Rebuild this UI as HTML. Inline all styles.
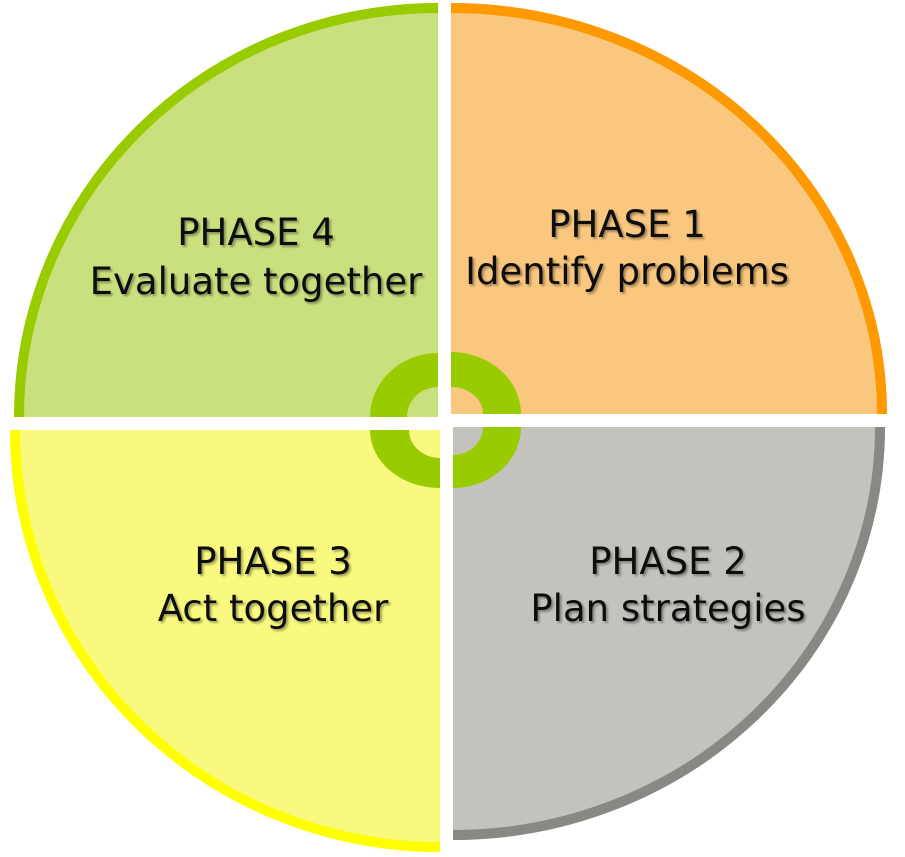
<!DOCTYPE html>
<html><head><meta charset="utf-8"><style>
html,body{margin:0;padding:0;background:#fff;}
svg{display:block}
text{font-family:"DejaVu Sans","Liberation Sans",sans-serif;font-size:37px;fill:#111;text-anchor:middle;}
</style></head><body>
<svg width="905" height="857" viewBox="0 0 905 857" xmlns="http://www.w3.org/2000/svg">
<defs>
<filter id="sh" x="-10%" y="-10%" width="120%" height="130%">
<feDropShadow dx="2" dy="2" stdDeviation="1" flood-color="#000" flood-opacity="0.35"/>
</filter>
</defs>
<path d="M438,417 L14,417 A424,414 0 0 1 438,3 Z" fill="#c9e07f"/>
<path d="M19,417 A419,409 0 0 1 438,8" fill="none" stroke="#99cc00" stroke-width="10"/>
<path d="M438,417 L370,417 A68,64 0 0 1 438,353 Z" fill="#99cc00"/>
<path d="M438,417 L407,417 A31,30 0 0 1 438,387 Z" fill="#c9e07f"/>
<path d="M451,414 L451,3 A436,411 0 0 1 887,414 Z" fill="#f9c77e"/>
<path d="M451,8 A431,406 0 0 1 882,414" fill="none" stroke="#ff9900" stroke-width="10"/>
<path d="M451,414 L451,352 A70,62 0 0 1 521,414 Z" fill="#99cc00"/>
<path d="M451,414 L451,387 A32,27 0 0 1 483,414 Z" fill="#f9c77e"/>
<path d="M453,427 L885,427 A432,413 0 0 1 453,840 Z" fill="#c4c2bd"/>
<path d="M880,427 A427,408 0 0 1 453,835" fill="none" stroke="#8a8884" stroke-width="10"/>
<path d="M453,427 L521,427 A68,61 0 0 1 453,488 Z" fill="#99cc00"/>
<path d="M453,427 L483,427 A30,28 0 0 1 453,455 Z" fill="#c4c2bd"/>
<path d="M440,430 L440,852 A430,422 0 0 1 10,430 Z" fill="#f9f97f"/>
<path d="M440,847 A425,417 0 0 1 15,430" fill="none" stroke="#ffff00" stroke-width="10"/>
<path d="M440,430 L440,488 A70,58 0 0 1 370,430 Z" fill="#99cc00"/>
<path d="M440,430 L440,458 A31,28 0 0 1 409,430 Z" fill="#f9f97f"/>
<g filter="url(#sh)">
<text x="256" y="245">PHASE 4</text>
<text x="256" y="294">Evaluate together</text>
<text x="627" y="237">PHASE 1</text>
<text x="627" y="284">Identify problems</text>
<text x="273" y="574">PHASE 3</text>
<text x="273" y="621">Act together</text>
<text x="668" y="574">PHASE 2</text>
<text x="668" y="621">Plan strategies</text>
</g>
</svg>
</body></html>
